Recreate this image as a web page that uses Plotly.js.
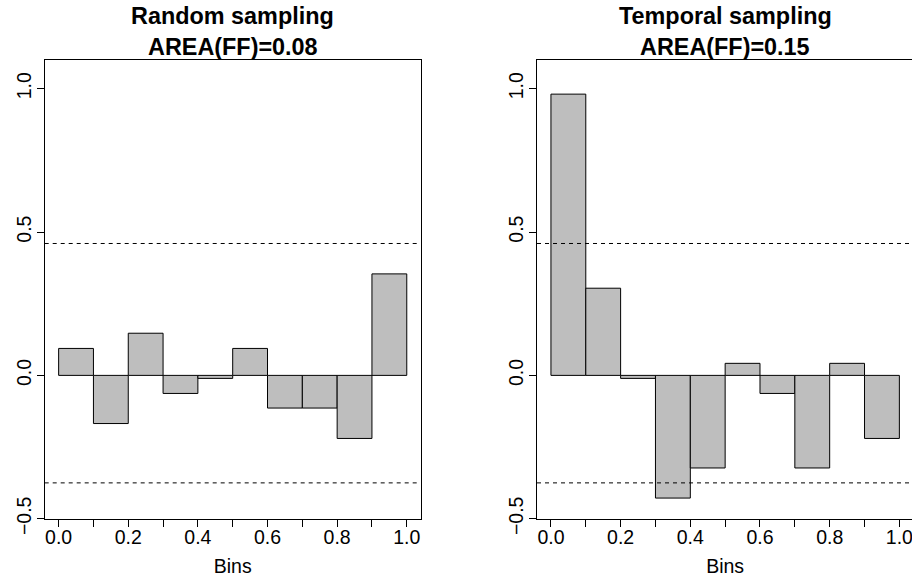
<!DOCTYPE html>
<html><head><meta charset="utf-8">
<script src="https://cdn.plot.ly/plotly-3.0.1.min.js"></script>
<style>html,body{margin:0;padding:0;overflow:hidden;background:#fff}#chart{width:920px;height:577px}</style>
</head><body><div id="chart"></div>
<script>
const binCenters = [0.05, 0.15, 0.25, 0.35, 0.45, 0.55, 0.65, 0.75, 0.85, 0.95];
const binWidth = 0.1;
const randomValues = [0.094, -0.168, 0.147, -0.063, -0.0105, 0.094, -0.114, -0.114, -0.220, 0.354];
const temporalValues = [0.981, 0.304, -0.0105, -0.428, -0.323, 0.042, -0.063, -0.323, 0.042, -0.220];
const thresholds = [0.46, -0.375];
const xTickVals = [0, 0.1, 0.2, 0.3, 0.4, 0.5, 0.6, 0.7, 0.8, 0.9, 1.0];
const xTickText = ['0.0', '', '0.2', '', '0.4', '', '0.6', '', '0.8', '', '1.0'];
const yTickVals = [-0.5, 0, 0.5, 1.0];
const yTickText = ['\u22120.5', '0.0', '0.5', '1.0'];
const panelTitles = ['Random sampling', 'Temporal sampling'];
const areaLabels = ['AREA(FF)=0.08', 'AREA(FF)=0.15'];
const xAxisLabel = 'Bins';

const FONT = '"Liberation Sans", Arial, Helvetica, sans-serif';
const tickFont = {family: FONT, size: 19.5, color: '#000'};

function barTrace(vals, xa, ya) {
  return {
    type: 'bar', x: binCenters, y: vals, base: 0,
    width: binCenters.map(() => binWidth),
    xaxis: xa, yaxis: ya,
    marker: {color: '#BEBEBE', line: {color: '#000', width: 1}},
    hoverinfo: 'skip', showlegend: false
  };
}

function xAx(domain, anchor) {
  return {
    domain: domain, anchor: anchor, range: [-0.04, 1.04],
    tickmode: 'array', tickvals: xTickVals, ticktext: xTickText,
    ticks: 'outside', ticklen: 7, tickwidth: 1, tickcolor: '#000',
    ticklabelstandoff: -6,
    showline: true, mirror: true, linecolor: '#000', linewidth: 1,
    showgrid: false, zeroline: false, tickfont: tickFont,
    title: {text: xAxisLabel, font: tickFont, standoff: 12},
    automargin: false
  };
}
function yAx(anchor) {
  return {
    domain: [0.101, 0.896], anchor: anchor, range: [-0.5, 1.1],
    tickmode: 'array', tickvals: yTickVals, ticktext: yTickText,
    ticks: 'outside', ticklen: 7, tickwidth: 1, tickcolor: '#000',
    tickangle: -90, ticklabelstandoff: -2,
    showline: true, mirror: true, linecolor: '#000', linewidth: 1,
    showgrid: false, zeroline: false, tickfont: tickFont,
    automargin: false
  };
}

const shapes = [];
['x', 'x2'].forEach((xa, i) => {
  const ya = i === 0 ? 'y' : 'y2';
  thresholds.forEach(t => {
    shapes.push({type: 'line', xref: xa + ' domain', yref: ya, x0: 0, x1: 1, y0: t, y1: t,
      line: {color: '#000', width: 1, dash: '4px,4px'}});
  });
});

const centers = [(0.04859 + 0.45728) / 2, (0.5837 + 0.99272) / 2];
const annotations = [];
centers.forEach((cx, i) => {
  annotations.push({xref: 'paper', yref: 'paper', x: cx, y: 1 - 16 / 577, xanchor: 'center', yanchor: 'middle',
    text: '<b>' + panelTitles[i] + '</b>', showarrow: false, font: {family: FONT, size: 23.4, color: '#000'}});
  annotations.push({xref: 'paper', yref: 'paper', x: cx, y: 1 - 47 / 577, xanchor: 'center', yanchor: 'middle',
    text: '<b>' + areaLabels[i] + '</b>', showarrow: false, font: {family: FONT, size: 23.4, color: '#000'}});
});

const layout = {
  width: 920, height: 577,
  margin: {l: 0, r: 0, t: 0, b: 0},
  paper_bgcolor: '#fff', plot_bgcolor: '#fff',
  xaxis: xAx([0.04859, 0.45728], 'y'),
  yaxis: yAx('x'),
  xaxis2: xAx([0.5837, 0.99272], 'y2'),
  yaxis2: yAx('x2'),
  shapes: shapes, annotations: annotations,
  bargap: 0, showlegend: false
};

Plotly.newPlot('chart', [barTrace(randomValues, 'x', 'y'), barTrace(temporalValues, 'x2', 'y2')], layout,
  {displayModeBar: false, staticPlot: true});
</script>
</body></html>
